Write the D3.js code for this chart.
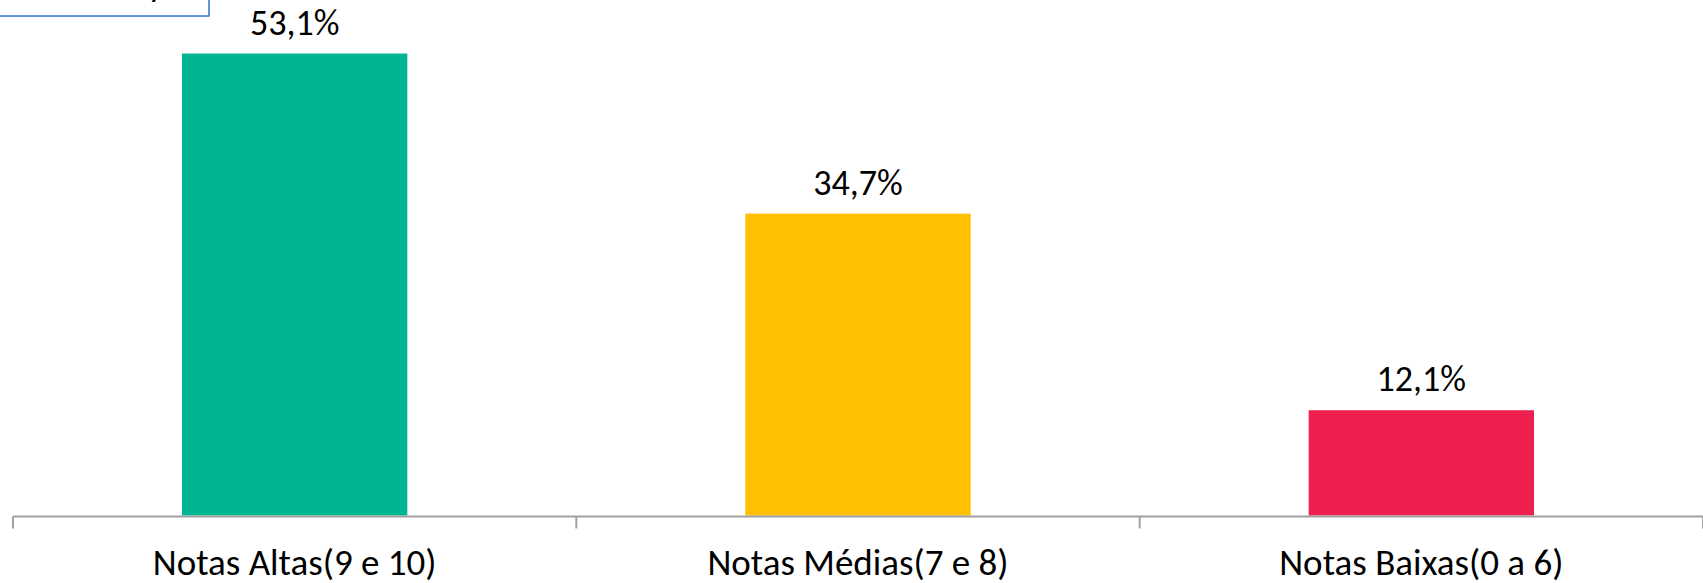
<!DOCTYPE html>
<html>
<head>
<meta charset="utf-8">
<script src="https://cdn.jsdelivr.net/npm/d3@7"></script>
<style>
  html, body { margin: 0; padding: 0; background: #ffffff; overflow: hidden; }
  svg { display: block; }
  text { font-family: Carlito, Calibri, Lato, "Open Sans", sans-serif; fill: #000000; }
</style>
</head>
<body>
<svg id="chart" width="1703" height="583"></svg>
<script>
// Distribuição das notas por faixa
const categories = ["Notas Altas(9 e 10)", "Notas Médias(7 e 8)", "Notas Baixas(0 a 6)"];
const values = [53.1, 34.7, 12.1];
const valueLabels = ["53,1%", "34,7%", "12,1%"];
const barColors = ["#00B592", "#FFC000", "#ED2050"];

const W = 1703, H = 583;
const plot = { left: 13, right: 1703, bottom: 515.5, top: -6.5 };
const valueFontSize = 36;
const categoryFontSize = 37;

const svg = d3.select("#chart");

const x = d3.scaleBand()
  .domain(categories)
  .range([plot.left, plot.right])
  .paddingInner(0.6)
  .paddingOuter(0.3);

const y = d3.scaleLinear()
  .domain([0, 60])
  .range([plot.bottom, plot.top]);

// Bars
svg.append("g")
  .selectAll("rect")
  .data(values)
  .join("rect")
  .attr("x", (d, i) => x(categories[i]))
  .attr("y", d => y(d))
  .attr("width", x.bandwidth())
  .attr("height", d => y(0) - y(d))
  .attr("fill", (d, i) => barColors[i]);

// Value labels above bars
svg.append("g")
  .selectAll("text")
  .data(values)
  .join("text")
  .attr("x", (d, i) => x(categories[i]) + x.bandwidth() / 2)
  .attr("y", d => y(d) - 19)
  .attr("text-anchor", "middle")
  .style("font-size", valueFontSize + "px")
  .text((d, i) => valueLabels[i]);

// Category axis: baseline plus tick marks between categories
const gap = x.step() - x.bandwidth();
const boundaries = categories.map(c => x(c) - gap / 2);
boundaries.push(x(categories[categories.length - 1]) + x.bandwidth() + gap / 2);

const axis = svg.append("g").attr("stroke", "#A0A0A0").attr("stroke-width", 2);
axis.append("line")
  .attr("x1", plot.left).attr("x2", W)
  .attr("y1", y(0) + 1).attr("y2", y(0) + 1);
axis.selectAll("line.tick")
  .data(boundaries)
  .join("line")
  .attr("class", "tick")
  .attr("x1", d => d).attr("x2", d => d)
  .attr("y1", y(0) + 1).attr("y2", y(0) + 13);

svg.append("g")
  .selectAll("text")
  .data(categories)
  .join("text")
  .attr("x", d => x(d) + x.bandwidth() / 2)
  .attr("y", y(0) + 59)
  .attr("text-anchor", "middle")
  .style("font-size", categoryFontSize + "px")
  .text(d => d);

// Note box in the upper-left corner
const note = svg.append("g");
note.append("rect")
  .attr("x", -2).attr("y", -40)
  .attr("width", 211).attr("height", 56)
  .attr("fill", "#ffffff")
  .attr("stroke", "#2F73D0")
  .attr("stroke-width", 1.5);
note.append("text")
  .attr("x", 148).attr("y", -4)
  .style("font-size", valueFontSize + "px")
  .text("y");
</script>
</body>
</html>
